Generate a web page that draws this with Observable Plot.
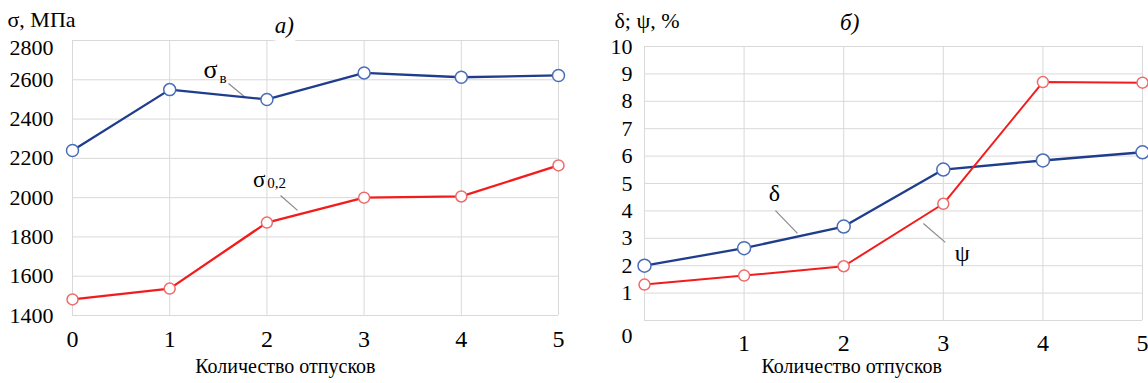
<!DOCTYPE html>
<html><head><meta charset="utf-8">
<script src="https://cdn.jsdelivr.net/npm/d3@7"></script>
<script src="https://cdn.jsdelivr.net/npm/@observablehq/plot@0.6"></script>
<style>
body{margin:0;background:#fff;}
#wrap{position:relative;width:1148px;height:383px;overflow:hidden;}
#left,#right{position:absolute;top:0;}
#left{left:0}#right{left:574px}
</style></head><body><div id="wrap"><div id="left"></div><div id="right"></div></div>
<script>
// ---- data ----
const tempers = [0, 1, 2, 3, 4, 5];
const sigmaB = [2240, 2550, 2500, 2635, 2613, 2622];
const sigma02 = [1482, 1537, 1873, 2000, 2006, 2164];
const delta = [2.0, 2.64, 3.43, 5.51, 5.84, 6.14];
const psi = [1.31, 1.64, 1.98, 4.26, 8.70, 8.68];
const leftYTicks = [1400, 1600, 1800, 2000, 2200, 2400, 2600, 2800];
const rightYTicks = [0, 1, 2, 3, 4, 5, 6, 7, 8, 9, 10];
const rightXTicks = [1, 2, 3, 4, 5];
const xTitle = "Количество отпусков";
const leftYTitle = "σ, МПа";
const rightYTitle = "δ; ψ, %";
const leftPanel = "a)";
const rightPanel = "б)";
// annotation labels (in data units)
const leftLabels = [
  {x: 1.42, y: 2652, t: "σ", s: 26},
  {x: 1.55, y: 2606, t: "в", s: 15},
  {x: 1.92, y: 2092, t: "σ", s: 23},
  {x: 2.10, y: 2072, t: "0,2", s: 15}
];
const leftLeaders = [
  {x1: 1.605, y1: 2581, x2: 1.78, y2: 2510},
  {x1: 2.14, y1: 2011, x2: 2.315, y2: 1935}
];
const rightLabels = [
  {x: 1.305, y: 4.64, t: "δ", s: 24},
  {x: 3.19, y: 2.45, t: "ψ", s: 24}
];
const rightLeaders = [
  {x1: 1.315, y1: 4.01, x2: 1.536, y2: 3.18},
  {x1: 2.80, y1: 3.54, x2: 3.02, y2: 2.85}
];

const BLUE = "#1f3d8c", BLUE_M = "#4a6db8", RED = "#f21c1c", RED_M = "#f06a6a", GRID = "#d9d9d9", LEAD = "#8a8a8a";
const font = "Liberation Serif, Times New Roman, serif";
const rows = (ys) => tempers.map((x, i) => ({x, y: ys[i]}));
const fmt = d => String(d);

const left = Plot.plot({
  width: 574, height: 383,
  marginLeft: 72, marginRight: 16, marginTop: 40, marginBottom: 68,
  style: {fontFamily: font, color: "#000", background: "#fff"},
  x: {domain: [0, 5], axis: null},
  y: {domain: [1400, 2800], axis: null},
  marks: [
    Plot.gridY(leftYTicks, {stroke: GRID, strokeOpacity: 1}),
    Plot.gridX(tempers, {stroke: GRID, strokeOpacity: 1}),
    Plot.axisY(leftYTicks.filter(v => v !== 2800), {tickSize: 0, tickPadding: 19, fontSize: 22, label: null, tickFormat: fmt}),
    Plot.text([2800], {y: d => d, text: fmt, frameAnchor: "left", dx: -19, dy: 7, textAnchor: "end", fontSize: 22}),
    Plot.axisX(tempers, {tickSize: 0, tickPadding: 14, fontSize: 24, label: null, tickFormat: fmt}),
    Plot.text([xTitle], {x: [2.19], frameAnchor: "bottom", dy: 51, lineAnchor: "middle", fontSize: 20}),
    Plot.text([leftYTitle], {frameAnchor: "top-left", dx: -65, dy: -21, lineAnchor: "middle", textAnchor: "start", fontSize: 22}),
    Plot.text([leftPanel], {x: [2.18], y: [2876], fontSize: 23, fontStyle: "italic", stroke: "white", strokeWidth: 16, fill: "black"}),
    Plot.link(leftLeaders, {x1: "x1", y1: "y1", x2: "x2", y2: "y2", stroke: LEAD, strokeWidth: 1.2}),
    Plot.line(rows(sigmaB), {x: "x", y: "y", stroke: BLUE, strokeWidth: 2.3}),
    Plot.line(rows(sigma02), {x: "x", y: "y", stroke: RED, strokeWidth: 2.3}),
    Plot.dot(rows(sigmaB), {x: "x", y: "y", r: 6, fill: "white", stroke: BLUE_M, strokeWidth: 1.5}),
    Plot.dot(rows(sigma02), {x: "x", y: "y", r: 5.5, fill: "white", stroke: RED_M, strokeWidth: 1.5}),
    Plot.text(leftLabels, {x: "x", y: "y", text: "t", fontSize: "s", fill: "black"})
  ]
});
document.getElementById("left").append(left);

const right = Plot.plot({
  width: 574, height: 383,
  marginLeft: 70, marginRight: 6, marginTop: 46, marginBottom: 63,
  style: {fontFamily: font, color: "#000", background: "#fff"},
  x: {domain: [0, 5], axis: null},
  y: {domain: [0, 10], axis: null},
  marks: [
    Plot.gridY(rightYTicks, {stroke: GRID, strokeOpacity: 1}),
    Plot.gridX(tempers, {stroke: GRID, strokeOpacity: 1}),
    Plot.axisY(rightYTicks.filter(v => v !== 0), {tickSize: 0, tickPadding: 12, fontSize: 22, label: null, tickFormat: fmt}),
    Plot.text([0], {y: d => d, text: fmt, frameAnchor: "left", dx: -12, dy: 15, textAnchor: "end", fontSize: 22}),
    Plot.axisX(rightXTicks, {tickSize: 0, tickPadding: 13, fontSize: 24, label: null, tickFormat: fmt}),
    Plot.text([xTitle], {x: [2.08], frameAnchor: "bottom", dy: 46, lineAnchor: "middle", fontSize: 20}),
    Plot.text([rightYTitle], {frameAnchor: "top-left", dx: -30, dy: -26, lineAnchor: "middle", textAnchor: "start", fontSize: 22}),
    Plot.text([rightPanel], {x: [2.06], y: [10.88], fontSize: 23, fontStyle: "italic", fill: "black"}),
    Plot.link(rightLeaders, {x1: "x1", y1: "y1", x2: "x2", y2: "y2", stroke: LEAD, strokeWidth: 1.2}),
    Plot.line(rows(delta), {x: "x", y: "y", stroke: BLUE, strokeWidth: 2.3}),
    Plot.line(rows(psi), {x: "x", y: "y", stroke: RED, strokeWidth: 2}),
    Plot.dot(rows(delta), {x: "x", y: "y", r: 6.5, fill: "white", stroke: BLUE_M, strokeWidth: 1.5}),
    Plot.dot(rows(psi), {x: "x", y: "y", r: 5.5, fill: "white", stroke: RED_M, strokeWidth: 1.5}),
    Plot.text(rightLabels, {x: "x", y: "y", text: "t", fontSize: "s", fill: "black"})
  ]
});
document.getElementById("right").append(right);
</script></body></html>
